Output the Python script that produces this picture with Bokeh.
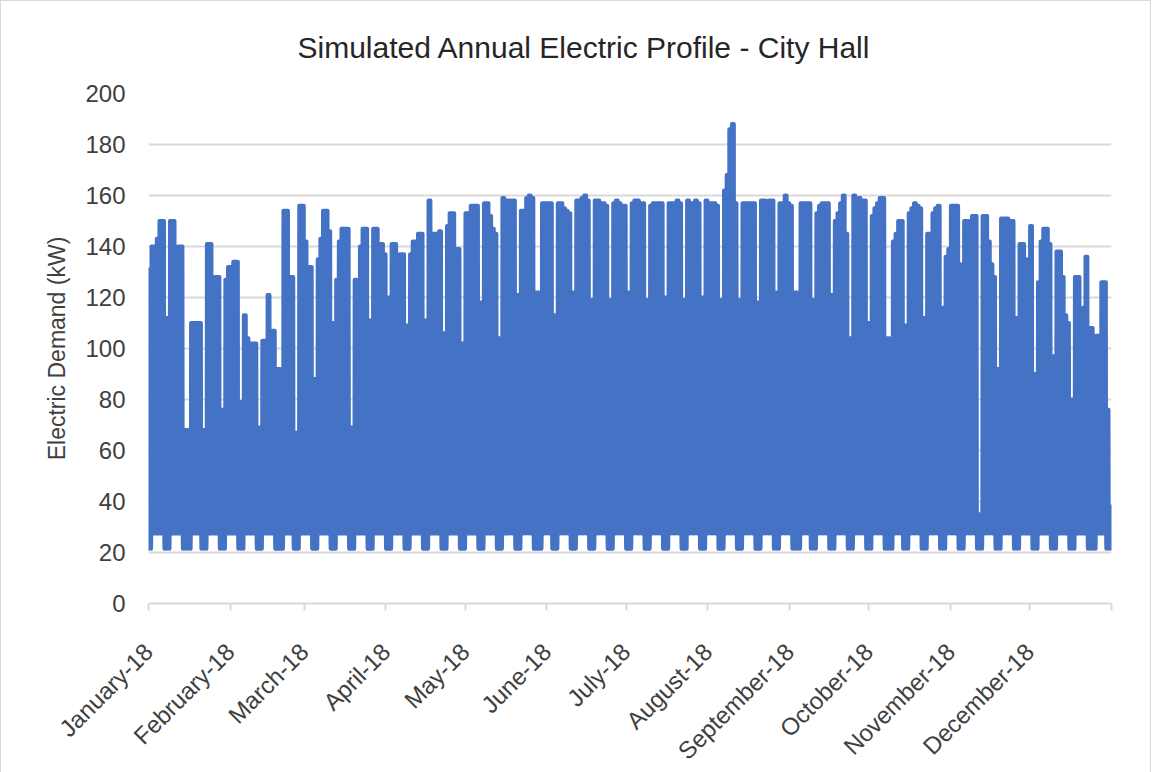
import math
from bokeh.plotting import figure
from bokeh.models import FixedTicker, Range1d
from bokeh.embed import file_html
from bokeh.resources import INLINE

# ---------------- data ----------------
# Daily peak demand (kW), one row per week (Sun .. Sat); day 0 = 1 January
daily_peak_kw = [
    131, 140, 140, 143, 150, 150, 112,
    112, 150, 150, 131, 140, 140, 68,
    68, 38, 110, 110, 110, 110, 68,
    68, 141, 141, 121, 128, 128, 76,
    76, 127, 132, 132, 134, 134, 79,
    79, 113, 104, 102, 102, 102, 69,
    69, 103, 103, 121, 107, 107, 92,
    92, 61, 154, 154, 128, 128, 67,
    67, 156, 156, 142, 132, 132, 88,
    88, 135, 143, 154, 154, 146, 110,
    110, 127, 142, 147, 147, 147, 69,
    69, 127, 124, 140, 147, 147, 111,
    111, 147, 147, 141, 141, 137, 120,
    120, 141, 141, 135, 137, 137, 109,
    109, 137, 142, 142, 145, 145, 111,
    111, 158, 145, 145, 145, 146, 106,
    106, 148, 153, 153, 139, 139, 102,
    102, 153, 153, 156, 156, 156, 118,
    118, 157, 157, 152, 147, 145, 104,
    104, 159, 158, 158, 158, 158, 121,
    121, 154, 154, 159, 160, 159, 122,
    122, 90, 157, 157, 157, 157, 113,
    113, 157, 157, 155, 154, 153, 122,
    122, 158, 158, 159, 160, 158, 119,
    119, 158, 158, 157, 157, 156, 119,
    119, 157, 158, 157, 156, 156, 122,
    122, 157, 158, 158, 157, 157, 119,
    119, 156, 157, 157, 157, 157, 120,
    120, 157, 157, 157, 158, 157, 119,
    119, 158, 157, 157, 158, 157, 120,
    120, 158, 157, 157, 157, 156, 119,
    119, 162, 168, 186, 188, 157, 119,
    119, 157, 157, 157, 157, 157, 118,
    118, 158, 158, 157, 158, 158, 122,
    122, 157, 157, 160, 157, 156, 122,
    122, 62, 157, 157, 157, 157, 119,
    119, 153, 156, 157, 157, 157, 121,
    121, 150, 153, 157, 160, 145, 104,
    104, 160, 158, 159, 158, 158, 110,
    110, 152, 155, 157, 159, 159, 104,
    104, 55, 142, 145, 150, 150, 109,
    109, 153, 155, 157, 156, 155, 112,
    112, 145, 145, 153, 155, 156, 116,
    116, 136, 139, 156, 156, 156, 133,
    89, 150, 150, 148, 152, 152, 35,
    35, 152, 152, 142, 133, 128, 92,
    92, 151, 151, 151, 150, 150, 112,
    112, 141, 141, 135, 131, 148, 90,
    90, 126, 142, 147, 147, 141, 97,
    97, 138, 138, 128, 113, 110, 80,
    80, 128, 128, 115, 116, 136, 108,
    108, 38, 105, 105, 126, 126, 76,
    38,
]
holidays = [15, 50, 148, 246, 281, 358]
night_low_weekday_kw = 27.5
night_low_weekend_kw = 21.5
start_kw = 50
end_kw = 30

month_starts = [0, 31, 59, 90, 120, 151, 181, 212, 243, 273, 304, 334, 365]
month_labels = ["January-18", "February-18", "March-18", "April-18", "May-18",
                "June-18", "July-18", "August-18", "September-18", "October-18",
                "November-18", "December-18", ""]
title_text = "Simulated Annual Electric Profile - City Hall"
y_title = "Electric Demand (kW)"

# ---------------- build the plotted series ----------------
xs, ys = [0.0], [start_kw]
for d, pk in enumerate(daily_peak_kw):
    weekend = (d % 7 in (0, 6)) or (d in holidays)
    low = night_low_weekend_kw if weekend else night_low_weekday_kw
    xs += [d + 0.04, d + 0.14, d + 0.86, d + 0.96]
    ys += [low, pk, pk, low]
xs.append(365.0)
ys.append(end_kw)

FONT = "Liberation Sans"
TXT = "#404040"
GRID = "#d9d9d9"

p = figure(frame_width=963, frame_height=510,
           min_border_left=147, min_border_right=39,
           min_border_top=92, min_border_bottom=165,
           x_range=Range1d(0, 365), y_range=Range1d(0, 200),
           output_backend="svg", toolbar_location=None,
           background_fill_color="white", border_fill_color="white",
           styles={"border": "1px solid #d9d9d9"})
p.outline_line_color = None

p.line(xs, ys, line_width=4, line_color="#4472C4", line_join="round", line_cap="round")

# title
p.title.text = title_text
p.title.align = "left"
p.title.offset = 149
p.title.vertical_align = "top"
p.title.standoff = 56
p.title.text_font = FONT
p.title.text_font_size = "30px"
p.title.text_font_style = "normal"
p.title.text_color = "#262626"

# axes
p.xaxis.ticker = FixedTicker(ticks=month_starts)
p.xaxis.major_label_overrides = {m: lab for m, lab in zip(month_starts, month_labels)}
p.xaxis.major_label_orientation = math.pi / 4
p.xaxis.major_label_text_font = FONT
p.xaxis.major_label_text_font_size = "24px"
p.xaxis.major_label_text_color = TXT
p.xaxis.axis_line_color = GRID
p.xaxis.axis_line_width = 2
p.xaxis.major_tick_line_color = GRID
p.xaxis.major_tick_line_width = 2
p.xaxis.major_tick_out = 7
p.xaxis.major_tick_in = 0
p.xaxis.minor_tick_line_color = None
p.xaxis.major_label_standoff = 37

p.yaxis.ticker = FixedTicker(ticks=list(range(0, 201, 20)))
p.yaxis.axis_line_color = None
p.yaxis.major_tick_line_color = None
p.yaxis.major_tick_out = 0
p.yaxis.major_tick_in = 0
p.yaxis.minor_tick_line_color = None
p.yaxis.minor_tick_out = 0
p.yaxis.major_label_standoff = 23
p.yaxis.major_label_text_font = FONT
p.yaxis.major_label_text_font_size = "24px"
p.yaxis.major_label_text_color = TXT
p.yaxis.axis_label = y_title
p.yaxis.axis_label_text_font = FONT
p.yaxis.axis_label_text_font_size = "23px"
p.yaxis.axis_label_text_font_style = "normal"
p.yaxis.axis_label_text_color = TXT
p.yaxis.axis_label_standoff = 12

p.xgrid.grid_line_color = None
p.ygrid.grid_line_color = GRID
p.ygrid.grid_line_width = 2

open("out.html", "w").write(file_html(p, INLINE))
